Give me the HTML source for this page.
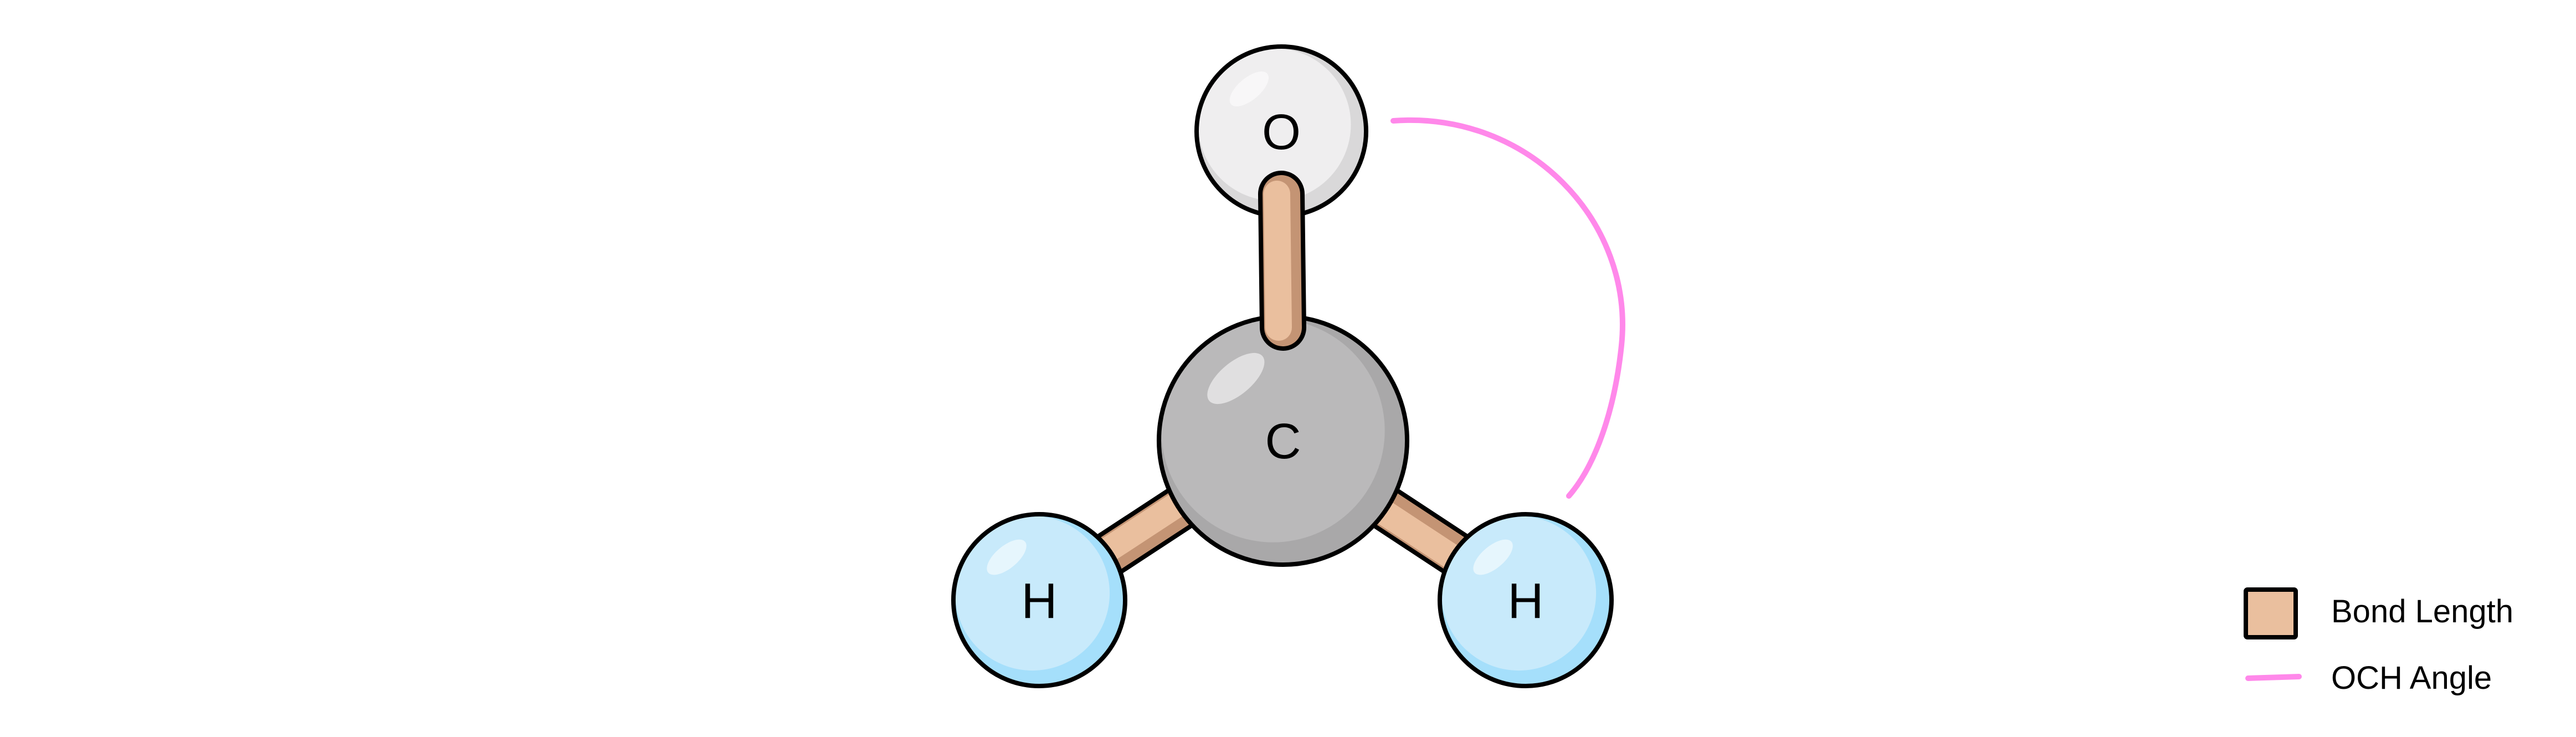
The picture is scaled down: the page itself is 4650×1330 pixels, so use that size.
<!DOCTYPE html>
<html><head><meta charset="utf-8"><style>
html,body{margin:0;padding:0;background:#fff;width:4650px;height:1330px;overflow:hidden}
svg{display:block}
text{font-family:"Liberation Sans","DejaVu Sans",sans-serif}
</style></head><body>
<svg width="4650" height="1330" viewBox="0 0 4650 1330">
<g id="bonds"></g>
<g id="atoms"></g>
<path d="M2515 218 C2760 200 2950 400 2927 623 C2915 740 2880 840 2832 895" fill="none" stroke="#ff88ea" stroke-width="10" stroke-linecap="round"/>
<g>
<rect x="4054" y="1064" width="90" height="86" fill="#eabf9e" stroke="#000" stroke-width="8" rx="3"/>
<text x="4208" y="1123" font-size="58" fill="#000">Bond Length</text>
<line x1="4058" y1="1224" x2="4150" y2="1221" stroke="#ff88ea" stroke-width="10" stroke-linecap="round"/>
<text x="4208" y="1243" font-size="58" fill="#000">OCH Angle</text>
</g>
</svg>
<script>
const atomLabels=["O","C","H","H"];
const atomX=[2313,2316,1876,2754];
const atomY=[237,795,1083,1083];
const atomR=[153,224,155,155];
const bondFrom=[0,1,1];
const bondTo=[1,2,3];
const NS="http://www.w3.org/2000/svg";
const fills={O:["#efeeef","#d9d8d9"],C:["#bab9ba","#a9a8a9"],H:["#c8eafb","#a5dffb"]};
const bg=document.getElementById("bonds"),ag=document.getElementById("atoms");
function mk(t,a,p){const e=document.createElementNS(NS,t);for(const k in a)e.setAttribute(k,a[k]);p.appendChild(e);return e;}
for(let i=1;i<bondFrom.length;i++){
  const a=bondFrom[i],b=bondTo[i];
  const x1=atomX[a],y1=atomY[a],x2=atomX[b],y2=atomY[b];
  const dx=x2-x1,dy=y2-y1,L=Math.hypot(dx,dy),ux=dx/L,uy=dy/L;
  const sx=x1+ux*(atomR[a]-40),sy=y1+uy*(atomR[a]-40),ex=x2-ux*(atomR[b]-30),ey=y2-uy*(atomR[b]-30);
  const o=mk("line",{x1:sx,y1:sy,x2:ex,y2:ey,stroke:"#000","stroke-width":84,"stroke-linecap":"round"},bg);
  
  
  const l=mk("line",{x1:sx,y1:sy,x2:ex,y2:ey,stroke:"#c49474","stroke-width":68,"stroke-linecap":"round"},bg);
  
  
  const h=mk("line",{x1:sx-uy*8,y1:sy+ux*8,x2:ex-uy*8,y2:ey+ux*8,stroke:"#eabf9e","stroke-width":46,"stroke-linecap":"round"},bg);
  
  
}
for(let i=0;i<atomLabels.length;i++){
  const f=fills[atomLabels[i]],x=atomX[i],y=atomY[i],r=atomR[i];
  const g=mk("g",{},ag);
  
  
  mk("circle",{cx:x,cy:y,r:r,fill:f[1]},g);
  mk("circle",{cx:x-r*0.08,cy:y-r*0.08,r:r*0.9,fill:f[0]},g);
  mk("ellipse",{cx:x-r*0.38,cy:y-r*0.5,rx:r*0.28,ry:r*0.13,fill:"#fff","fill-opacity":0.55,transform:`rotate(-40 ${x-r*0.38} ${y-r*0.5})`},g);
  mk("circle",{cx:x,cy:y,r:r,fill:"none",stroke:"#000","stroke-width":8},g);
  const t=mk("text",{x:x,y:y+32,"font-size":90,"text-anchor":"middle",fill:"#000"},g);
  t.textContent=atomLabels[i];
  
  
}
{
  const a=bondFrom[0],b=bondTo[0];
  const sx=atomX[a],sy=atomY[a]+atomR[a]-40,ex=atomX[b],ey=atomY[b]-atomR[b]+20;
  const o=mk("line",{x1:sx,y1:sy,x2:ex,y2:ey,stroke:"#000","stroke-width":84,"stroke-linecap":"round"},ag);
  
  
  const l=mk("line",{x1:sx,y1:sy,x2:ex,y2:ey,stroke:"#c49474","stroke-width":68,"stroke-linecap":"round"},ag);
  
  
  const h=mk("line",{x1:sx-8,y1:sy,x2:ex-8,y2:ey,stroke:"#eabf9e","stroke-width":48,"stroke-linecap":"round"},ag);
  
  
}
</script>
</body></html>
